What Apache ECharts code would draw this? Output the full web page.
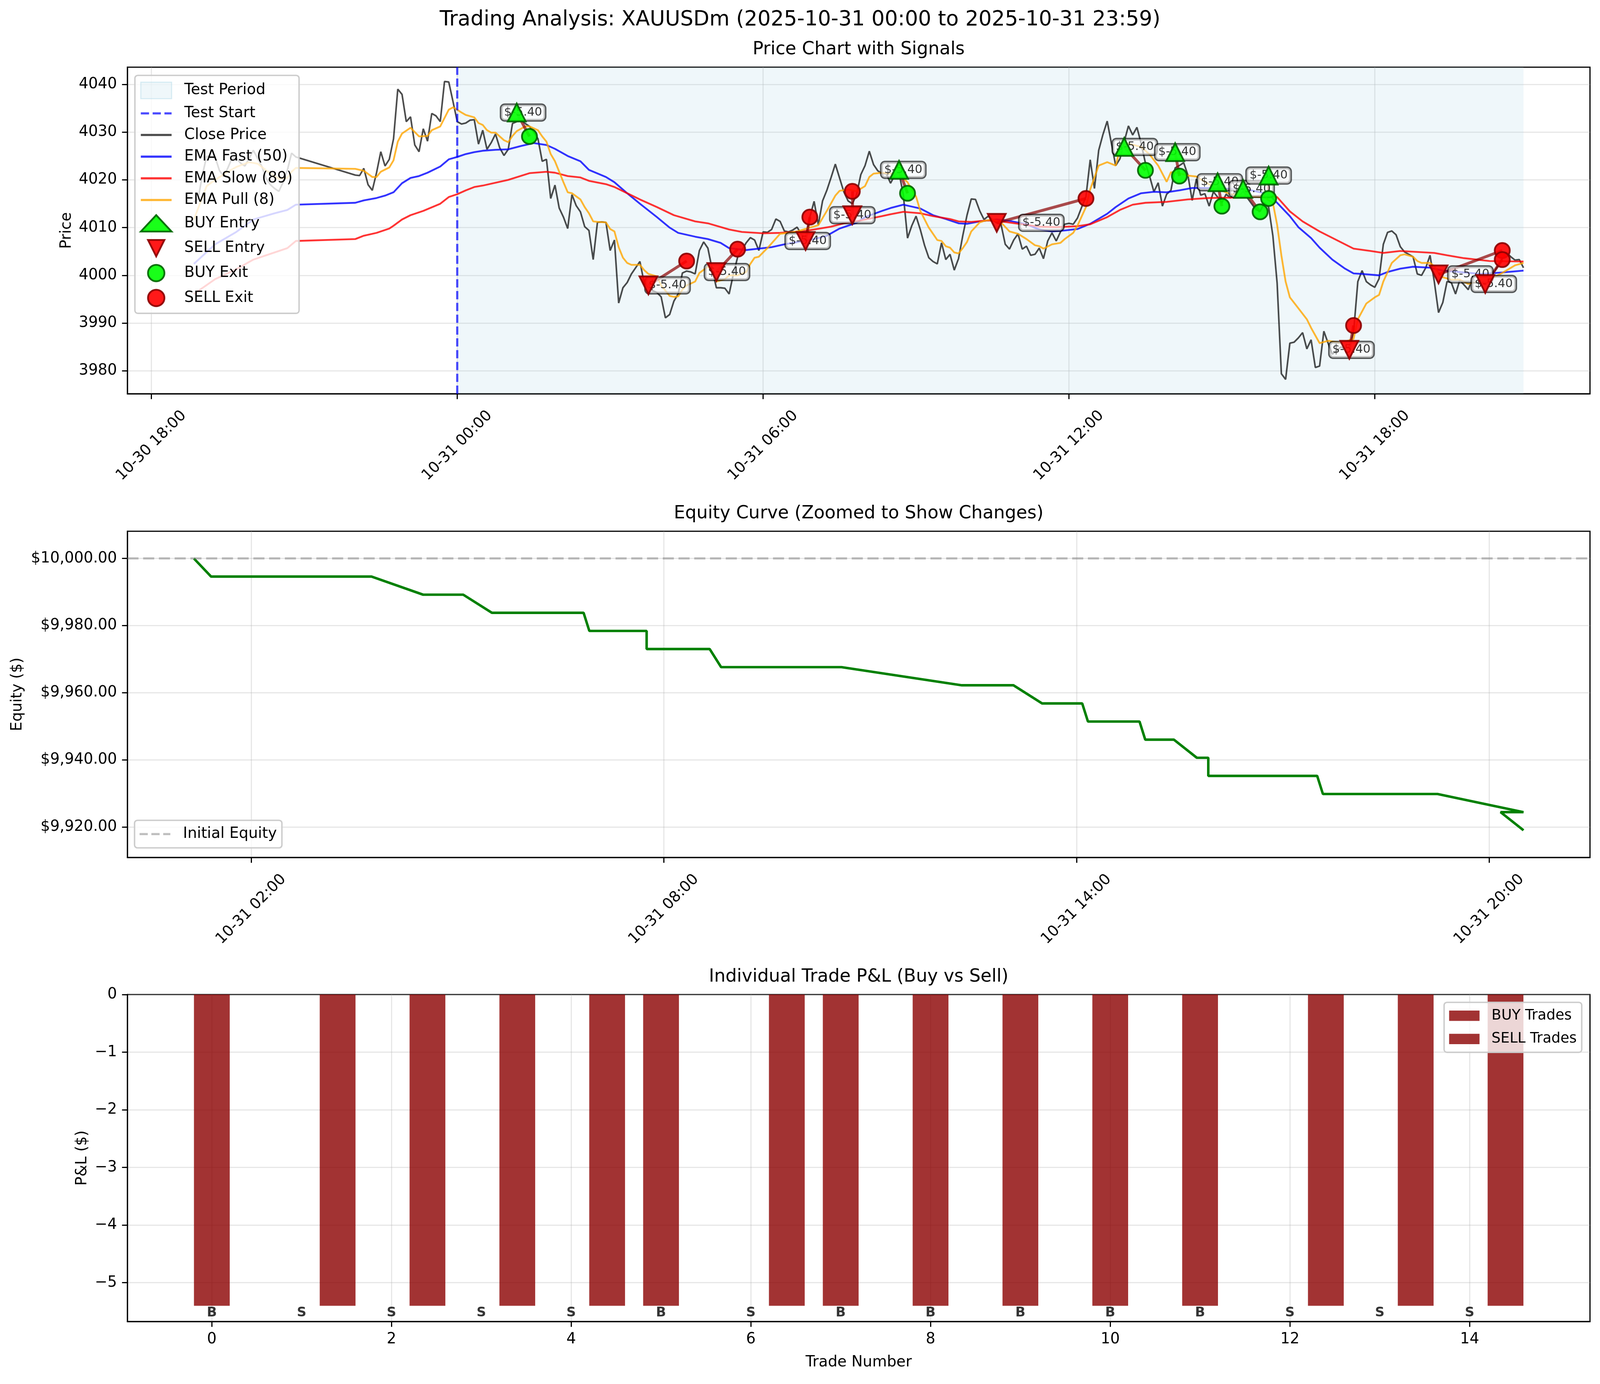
<!DOCTYPE html>
<html><head><meta charset="utf-8">
<script src="https://cdn.jsdelivr.net/npm/echarts@6/dist/echarts.min.js"></script>
<style>html,body{margin:0;padding:0;background:#fff;overflow:hidden}#c{width:100vw;height:100vh}</style>
</head><body><div id="c"></div><script>
// ---- DATA (time = minutes from 2025-10-31 00:00) ----
const closePrice = [[-310,4015.4],[-305,4016.0],[-300,4021.0],[-295,4024.9],[-290,4025.0],[-285,4024.8],[-280,4022.0],[-275,4020.7],[-270,4022.5],[-265,4024.6],[-260,4024.5],[-255,4023.5],[-250,4022.9],[-245,4024.5],[-240,4026.2],[-235,4024.5],[-230,4022.8],[-225,4020.3],[-220,4019.0],[-215,4018.2],[-210,4017.6],[-205,4019.5],[-200,4022.0],[-195,4025.6],[-190,4024.8],
[-120,4021.0],[-115,4020.9],[-110,4022.4],[-105,4019.0],[-100,4017.8],[-95,4021.5],[-90,4025.9],[-85,4022.9],[-80,4024.3],[-75,4028.6],[-70,4039.0],[-65,4037.9],[-60,4032.2],[-55,4033.2],[-50,4027.3],[-45,4025.9],[-40,4030.7],[-35,4028.1],[-30,4033.9],[-25,4033.4],[-20,4032.2],[-15,4040.6],[-10,4040.5],[-5,4036.4],[0,4032.2],[5,4031.7],[10,4031.9],[15,4032.5],[20,4032.6],[25,4027.5],[30,4030.4],[35,4026.4],[40,4027.8],[45,4029.6],[50,4026.7],[55,4025.1],[60,4026.4],[65,4031.8],[70,4032.2],[75,4032.5],[80,4031.8],[85,4031.2],[90,4030.0],[95,4028.6],[100,4023.9],[105,4024.3],[110,4016.1],[115,4018.9],[120,4014.1],[125,4012.2],[130,4009.8],[135,4016.9],[140,4014.6],[145,4013.3],[150,4010.2],[155,4009.4],[160,4003.3],[165,4011.1],[170,4011.2],[175,4011.1],[180,4005.2],[185,4007.4],[190,3994.2],[195,3997.4],[200,3998.5],[205,4000.3],[210,4001.6],[215,4002.9],[220,3998.4],[225,3997.5],[230,3996.8],[235,3996.4],[240,3995.5],[245,3991.1],[250,3991.8],[255,3994.6],[260,3996.1],[265,4000.5],[270,4000.9],[275,4000.7],[280,4000.3],[285,4005.2],[290,4007.0],[295,4005.7],[300,4001.3],[305,3997.4],[310,3997.4],[315,3997.3],[320,3996.1],[325,4000.3],[330,4003.8],[335,4005.2],[340,4006.8],[345,4007.9],[350,4007.4],[355,4005.2],[360,4009.1],[365,4009.0],[370,4009.6],[375,4011.8],[380,4011.3],[385,4009.3],[390,4009.1],[395,4009.5],[400,4010.1],[405,4008.6],[410,4007.6],[415,4012.2],[420,4015.5],[425,4010.6],[430,4015.6],[435,4017.8],[440,4020.5],[445,4023.3],[450,4020.4],[455,4017.5],[460,4015.6],[465,4015.0],[470,4016.9],[475,4021.1],[480,4023.0],[485,4026.0],[490,4023.2],[495,4021.9],[500,4021.3],[505,4021.3],[510,4019.3],[515,4021.0],[520,4021.5],[525,4016.9],[530,4007.8],[535,4010.4],[540,4012.4],[545,4009.6],[550,4006.3],[555,4003.7],[560,4002.9],[565,4002.4],[570,4006.8],[575,4003.3],[580,4004.4],[585,4001.1],[590,4003.5],[595,4008.3],[600,4012.6],[605,4016.0],[610,4015.9],[615,4013.5],[620,4011.7],[625,4012.4],[630,4011.6],[635,4011.0],[640,4010.7],[645,4006.5],[650,4005.5],[655,4007.4],[660,4008.7],[665,4005.5],[670,4006.1],[675,4004.2],[680,4004.4],[685,4005.7],[690,4003.5],[695,4007.2],[700,4008.9],[705,4007.2],[710,4009.1],[715,4010.7],[720,4010.9],[725,4010.7],[730,4012.0],[735,4014.3],[740,4016.5],[745,4024.2],[750,4018.2],[755,4026.2],[760,4029.5],[765,4032.3],[770,4027.6],[775,4023.0],[780,4024.4],[785,4028.0],[790,4031.3],[795,4029.4],[800,4031.0],[805,4027.6],[810,4023.5],[815,4020.7],[820,4017.5],[825,4019.4],[830,4014.5],[835,4017.0],[840,4017.8],[845,4022.5],[850,4023.0],[855,4023.6],[860,4021.0],[865,4015.7],[870,4020.2],[875,4016.8],[880,4017.1],[885,4014.5],[890,4017.5],[895,4016.4],[900,4015.2],[905,4017.0],[910,4016.2],[915,4017.4],[920,4016.5],[925,4017.6],[930,4016.2],[935,4015.0],[940,4013.8],[945,4013.4],[950,4015.2],[955,4014.3],[960,4008.3],[965,3998.4],[970,3979.4],[975,3978.2],[980,3985.8],[985,3986.0],[990,3986.9],[995,3988.0],[1000,3984.6],[1005,3986.5],[1010,3980.7],[1015,3981.0],[1020,3988.3],[1025,3985.8],[1030,3983.5],[1035,3984.2],[1040,3985.0],[1045,3984.6],[1050,3985.0],[1055,3988.1],[1060,3998.7],[1065,4001.0],[1070,3998.7],[1075,3998.0],[1080,3997.5],[1085,3999.3],[1090,4006.5],[1095,4009.0],[1100,4009.3],[1105,4008.5],[1110,4006.0],[1115,4004.9],[1120,4004.4],[1125,4003.9],[1130,4000.3],[1135,4000.0],[1140,4001.6],[1145,4004.2],[1150,3998.7],[1155,3992.2],[1160,3994.3],[1165,3998.7],[1170,3998.5],[1175,3996.1],[1180,3999.0],[1185,3998.0],[1190,3997.0],[1195,3999.4],[1200,3998.4],[1205,3999.0],[1210,3998.0],[1215,3999.5],[1220,4000.6],[1225,4002.0],[1230,4003.5],[1235,4004.8],[1240,4003.9],[1245,4003.2],[1250,4003.3],[1255,4001.6]];

const emaFast = [[-310,4002.4],[-285,4006.5],[-260,4009.1],[-240,4011.7],[-215,4013.0],[-200,4013.7],[-190,4014.8],[-120,4015.2],[-110,4015.7],[-95,4016.2],[-85,4016.7],[-75,4017.4],[-65,4019.3],[-55,4020.4],[-45,4020.8],[-35,4021.5],[-20,4022.8],[-10,4024.3],[0,4024.8],[10,4025.4],[20,4025.8],[30,4026.1],[45,4026.3],[60,4026.4],[75,4027.1],[90,4027.7],[105,4027.3],[115,4026.5],[130,4025.0],[145,4023.9],[155,4022.1],[175,4020.6],[185,4019.5],[200,4017.2],[215,4015.0],[235,4012.2],[250,4010.0],[260,4008.9],[280,4008.1],[295,4007.6],[310,4006.8],[320,4005.7],[340,4005.3],[360,4005.7],[370,4005.9],[385,4006.5],[405,4007.1],[420,4007.6],[435,4008.3],[450,4009.8],[460,4010.4],[470,4011.0],[480,4012.2],[500,4013.5],[510,4014.1],[525,4014.8],[535,4014.4],[545,4014.0],[560,4012.6],[575,4011.8],[590,4010.9],[600,4010.8],[615,4011.3],[635,4011.7],[650,4011.4],[670,4010.7],[685,4009.6],[700,4009.2],[715,4009.4],[730,4009.7],[745,4010.8],[765,4012.9],[775,4014.3],[790,4016.1],[805,4017.2],[820,4017.5],[835,4017.4],[850,4017.8],[865,4018.3],[885,4018.3],[930,4018.0],[955,4017.0],[965,4015.2],[980,4012.4],[990,4010.1],[1005,4007.8],[1015,4005.8],[1030,4003.3],[1045,4001.4],[1055,4000.4],[1065,4000.3],[1085,4000.0],[1095,4000.7],[1110,4001.4],[1125,4001.8],[1145,4001.6],[1160,4001.0],[1185,4000.6],[1205,4000.3],[1230,4000.6],[1255,4001.0]];

const emaSlow = [[-310,3996.1],[-285,3999.2],[-260,4001.3],[-240,4003.3],[-215,4004.8],[-200,4005.7],[-190,4007.2],[-120,4007.6],[-110,4008.3],[-95,4008.9],[-80,4009.8],[-75,4010.4],[-65,4011.7],[-55,4012.6],[-40,4013.5],[-20,4015.0],[-10,4016.4],[0,4017.0],[10,4017.8],[20,4018.5],[30,4018.8],[60,4020.0],[85,4021.4],[105,4021.7],[115,4021.5],[130,4020.8],[145,4020.5],[155,4019.8],[175,4019.1],[185,4018.5],[200,4017.2],[215,4015.9],[235,4014.3],[255,4012.6],[280,4011.3],[295,4010.9],[320,4009.6],[335,4009.1],[360,4008.8],[380,4008.9],[405,4009.2],[420,4009.6],[440,4010.2],[455,4010.9],[475,4011.5],[500,4012.4],[510,4012.8],[525,4013.3],[545,4013.0],[560,4012.4],[580,4011.8],[590,4011.3],[605,4011.2],[625,4011.5],[640,4011.3],[665,4010.7],[685,4010.2],[705,4010.1],[730,4010.3],[745,4010.7],[765,4012.2],[780,4013.7],[795,4014.8],[810,4015.2],[835,4015.4],[860,4015.9],[885,4016.2],[915,4016.3],[950,4016.7],[965,4016.4],[980,4013.4],[995,4011.3],[1015,4009.2],[1035,4007.4],[1055,4005.6],[1075,4005.1],[1090,4004.7],[1110,4005.1],[1130,4004.9],[1150,4004.7],[1165,4004.2],[1185,4003.6],[1215,4003.0],[1255,4002.9]];

const emaPull = [[-310,4011.7],[-295,4018.7],[-285,4020.0],[-270,4021.7],[-260,4022.7],[-245,4023.7],[-235,4023.4],[-225,4022.0],[-215,4020.8],[-210,4020.2],[-200,4020.4],[-195,4021.7],[-190,4022.5],[-120,4022.3],[-110,4021.9],[-100,4020.6],[-95,4020.6],[-90,4021.7],[-80,4022.6],[-75,4024.1],[-70,4028.0],[-65,4029.7],[-55,4030.9],[-45,4029.1],[-35,4029.2],[-30,4030.4],[-20,4031.2],[-10,4034.7],[-5,4035.2],[0,4034.7],[5,4034.1],[10,4033.6],[20,4033.1],[25,4031.9],[30,4031.5],[35,4030.4],[40,4029.9],[45,4029.9],[50,4029.1],[55,4028.3],[60,4027.9],[65,4029.2],[70,4030.2],[80,4031.2],[85,4031.2],[95,4030.4],[100,4029.1],[105,4028.0],[110,4025.4],[115,4023.9],[120,4021.7],[125,4019.5],[130,4017.4],[135,4017.2],[145,4015.9],[150,4014.3],[155,4013.0],[160,4011.3],[165,4011.2],[175,4011.1],[180,4009.7],[185,4009.2],[190,4005.9],[195,4003.7],[200,4002.6],[205,4002.2],[215,4002.2],[220,4001.1],[225,4000.3],[235,3999.8],[240,3997.9],[250,3995.7],[255,3995.5],[260,3995.6],[265,3997.0],[270,3997.9],[280,3998.7],[285,4000.5],[295,4001.8],[300,4001.1],[305,3998.7],[315,3999.2],[320,4000.0],[330,4000.0],[340,4000.7],[345,4002.4],[350,4003.7],[355,4003.9],[365,4005.7],[380,4008.7],[390,4008.9],[400,4009.2],[415,4010.0],[425,4010.5],[435,4013.5],[445,4016.7],[450,4017.7],[460,4018.0],[470,4017.6],[480,4018.7],[485,4020.6],[490,4021.3],[500,4021.5],[510,4021.3],[520,4021.1],[530,4019.5],[540,4016.5],[545,4013.5],[555,4010.0],[565,4007.4],[570,4007.2],[575,4006.1],[580,4005.8],[585,4004.8],[590,4004.6],[595,4005.7],[600,4007.0],[605,4009.2],[615,4011.1],[620,4011.4],[630,4011.7],[640,4011.1],[650,4009.2],[660,4008.7],[670,4007.6],[680,4006.3],[685,4006.1],[690,4005.6],[700,4006.5],[710,4006.8],[715,4007.6],[725,4008.9],[730,4010.4],[740,4014.3],[745,4018.0],[755,4023.0],[765,4023.7],[775,4023.0],[780,4026.4],[790,4027.6],[805,4026.9],[815,4025.3],[825,4023.0],[835,4019.6],[840,4021.6],[850,4021.4],[860,4020.9],[870,4020.7],[890,4018.5],[910,4017.0],[930,4016.6],[950,4016.3],[960,4015.2],[965,4010.6],[970,4004.2],[975,3998.7],[980,3995.4],[990,3993.1],[1000,3990.8],[1005,3989.0],[1015,3985.8],[1025,3986.3],[1035,3986.0],[1040,3985.8],[1055,3986.7],[1060,3990.8],[1070,3994.1],[1080,3995.4],[1085,3995.9],[1090,3998.7],[1100,4002.6],[1110,4004.2],[1115,4004.4],[1125,4003.9],[1130,4003.0],[1135,4002.6],[1145,4002.6],[1150,4001.9],[1155,4000.5],[1160,3999.6],[1170,3999.1],[1180,3999.1],[1190,3998.2],[1200,3998.7],[1215,3999.1],[1230,4000.5],[1245,4002.1],[1255,4002.6]];

const tradeSide  = ['BUY','SELL','SELL','SELL','SELL','BUY','SELL','BUY','BUY','BUY','BUY','BUY','SELL','SELL','SELL'];
const entryTime  = [70,225,305,410,465,520,635,785,845,895,925,955,1050,1155,1210];
const entryPrice = [4034.1,3997.9,4000.7,4007.2,4012.6,4022.1,4011.0,4026.9,4025.8,4019.5,4018.1,4020.9,3984.4,4000.2,3998.2];
const exitTime   = [85,270,330,415,465,530,740,810,850,900,945,955,1055,1230,1230];
const exitPrice  = [4029.1,4003.0,4005.5,4012.2,4017.6,4017.2,4016.1,4022.0,4020.8,4014.5,4013.3,4016.1,3989.5,4005.2,4003.3];
const tradePnl   = [-5.4,-5.4,-5.4,-5.4,-5.4,-5.4,-5.4,-5.4,-5.4,-5.4,-5.4,-5.4,-5.4,-5.4,-5.4];
const initialEquity = 10000;
const equityAfter = [9994.6,9989.2,9983.8,9978.4,9973.0,9967.6,9962.2,9956.8,9951.4,9946.0,9940.6,9935.2,9929.8,9924.4,9919.0];
const testStart = 0;

const priceXTicks = [-360,0,360,720,1080];
const priceYTicks = [3980,3990,4000,4010,4020,4030,4040];
const equityXTicks = [120,480,840,1200];
const equityYTicks = [9920,9940,9960,9980,10000];
const pnlXTicks = [0,2,4,6,8,10,12,14];
const pnlYTicks = [-5,-4,-3,-2,-1,0];

// ---- derived tables ----
const idx = tradeSide.map((_, i) => i);
const buyIdx = idx.filter(i => tradeSide[i] === 'BUY');
const sellIdx = idx.filter(i => tradeSide[i] === 'SELL');
const testEnd = closePrice[closePrice.length - 1][0];
const equityCurve = [];
let eqPrev = initialEquity;
idx.forEach(i => { equityCurve.push([entryTime[i], eqPrev]); equityCurve.push([exitTime[i], equityAfter[i]]); eqPrev = equityAfter[i]; });

// ---- layout scaling (design size 4471 x 3543) ----
const dom = document.getElementById('c');
const W = dom.clientWidth || window.innerWidth, H = dom.clientHeight || window.innerHeight;
const SX = W / 4471, SY = H / 3543, SF = Math.min(SX, SY);
const px = v => v * SX, py = v => v * SY, pf = v => v * SF;

// ---- helpers ----
const FONT = 'DejaVu Sans';
const pad2 = n => String(n).padStart(2, '0');
function fmtTime(t) {
  const day = t < 0 ? 30 : 31;
  const m = ((t % 1440) + 1440) % 1440;
  return '10-' + day + ' ' + pad2(Math.floor(m / 60)) + ':' + pad2(m % 60);
}
const fmtPlain = v => String(v);
const fmtMoney = v => '$' + v.toLocaleString('en-US', {minimumFractionDigits: 2, maximumFractionDigits: 2});
const fmtMinus = v => v < 0 ? '\u2212' + Math.abs(v) : String(v);
const SPINE = pf(3.3);
const axisLine = {show: true, onZero: false, lineStyle: {color: '#000', width: SPINE}};
const tick = vals => ({show: true, length: pf(15), inside: false, customValues: vals, lineStyle: {color: '#000', width: SPINE}});
const split = {show: true, lineStyle: {color: 'rgba(176,176,176,0.3)', width: pf(3.3)}};
const lbl = (vals, extra) => Object.assign({customValues: vals, fontSize: pf(42), fontFamily: FONT, color: '#000', margin: pf(29)}, extra || {});
const nameStyle = {fontSize: pf(42), fontFamily: FONT, color: '#000'};
const gridBox = (top, h) => ({left: px(356), top: py(top), width: px(4087), height: py(h), show: true, borderColor: '#000', borderWidth: SPINE, backgroundColor: 'transparent'});
const titleStyle = size => ({fontSize: pf(size), fontWeight: 'normal', fontFamily: FONT, color: '#000', lineHeight: pf(size)});
const legendBase = {orient: 'vertical', backgroundColor: 'rgba(255,255,255,0.8)', borderColor: '#cccccc', borderWidth: pf(4), borderRadius: pf(8),
  itemGap: py(17), itemWidth: pf(86), itemHeight: pf(46), textStyle: {fontSize: pf(42), fontFamily: FONT, color: '#000', lineHeight: pf(42), padding: [0, 0, 0, pf(30)]}, selectedMode: false, z: 20};
const markerZ = 6;
const greenFill = '#00ff00', greenEdge = '#006400', redFill = '#ff0000', redEdge = '#8b0000';
const downTri = 'path://M0,0L100,0L50,100Z';
const lineIcon = 'path://M0,0H86V6H0Z';
const dashIcon = 'path://M0,0H23V6H0Z M33,0H56V6H33Z M66,0H86V6H66Z';
const markerBorder = pf(5);

const option = {
  animation: false,
  backgroundColor: '#ffffff',
  title: [
    {text: 'Trading Analysis: XAUUSDm (2025-10-31 00:00 to 2025-10-31 23:59)', left: 'center', top: py(25), padding: 0, textStyle: titleStyle(58)},
    {text: 'Price Chart with Signals', left: px(2399.5), textAlign: 'center', top: py(104), padding: 0, textStyle: titleStyle(50)},
    {text: 'Equity Curve (Zoomed to Show Changes)', left: px(2399.5), textAlign: 'center', top: py(1292), padding: 0, textStyle: titleStyle(50)},
    {text: 'Individual Trade P&L (Buy vs Sell)', left: px(2399.5), textAlign: 'center', top: py(2478), padding: 0, textStyle: titleStyle(50)}
  ],
  grid: [gridBox(172, 836), gridBox(1360, 835), gridBox(2546, 837)],
  xAxis: [
    {type: 'value', gridIndex: 0, min: -388.25, max: 1333.25, axisLine: axisLine, axisTick: tick(priceXTicks), splitLine: split,
     axisLabel: lbl(priceXTicks, {formatter: fmtTime, rotate: 45, align: 'center', verticalAlign: 'middle', margin: py(133)})},
    {type: 'value', gridIndex: 1, min: 12, max: 1288, axisLine: axisLine, axisTick: tick(equityXTicks), splitLine: split,
     axisLabel: lbl(equityXTicks, {formatter: fmtTime, rotate: 45, align: 'center', verticalAlign: 'middle', margin: py(133)})},
    {type: 'value', gridIndex: 2, min: -0.94, max: 15.34, axisLine: axisLine, axisTick: tick(pnlXTicks), splitLine: split,
     axisLabel: lbl(pnlXTicks, {formatter: fmtPlain}), name: 'Trade Number', nameLocation: 'middle', nameGap: py(86), nameTextStyle: nameStyle}
  ],
  yAxis: [
    {type: 'value', gridIndex: 0, min: 3975.2, max: 4043.6, axisLine: axisLine, axisTick: tick(priceYTicks), splitLine: split,
     axisLabel: lbl(priceYTicks, {formatter: fmtPlain}), name: 'Price', nameLocation: 'middle', nameGap: px(149), nameTextStyle: nameStyle},
    {type: 'value', gridIndex: 1, min: 9910.9, max: 10008.1, axisLine: axisLine, axisTick: tick(equityYTicks), splitLine: split,
     axisLabel: lbl(equityYTicks, {formatter: fmtMoney}), name: 'Equity ($)', nameLocation: 'middle', nameGap: px(286), nameTextStyle: nameStyle},
    {type: 'value', gridIndex: 2, min: -5.673, max: 0, axisLine: axisLine, axisTick: tick(pnlYTicks), splitLine: split,
     axisLabel: lbl(pnlYTicks, {formatter: fmtMinus}), name: 'P&L ($)', nameLocation: 'middle', nameGap: px(105), nameTextStyle: nameStyle}
  ],
  legend: [
    Object.assign({}, legendBase, {left: px(377), top: py(193), padding: [py(16), px(18), py(16), px(14)],
      data: [
        {name: 'Test Period', icon: 'rect', itemStyle: {color: 'rgba(173,216,230,0.2)', borderColor: 'rgba(173,216,230,0.45)', borderWidth: pf(3)}},
        {name: 'Test Start', icon: dashIcon, itemStyle: {color: 'rgba(0,0,255,0.7)', borderWidth: 0}},
        {name: 'Close Price', icon: lineIcon, itemStyle: {color: 'rgba(0,0,0,0.7)', borderWidth: 0}},
        {name: 'EMA Fast (50)', icon: lineIcon, itemStyle: {color: 'rgba(0,0,255,0.8)', borderWidth: 0}},
        {name: 'EMA Slow (89)', icon: lineIcon, itemStyle: {color: 'rgba(255,0,0,0.8)', borderWidth: 0}},
        {name: 'EMA Pull (8)', icon: lineIcon, itemStyle: {color: 'rgba(255,165,0,0.8)', borderWidth: 0}},
        {name: 'BUY Entry', icon: 'triangle', itemStyle: {color: greenFill, borderColor: greenEdge, borderWidth: markerBorder}},
        {name: 'SELL Entry', icon: downTri, itemStyle: {color: redFill, borderColor: redEdge, borderWidth: markerBorder}},
        {name: 'BUY Exit', icon: 'circle', itemStyle: {color: greenFill, borderColor: greenEdge, borderWidth: markerBorder}},
        {name: 'SELL Exit', icon: 'circle', itemStyle: {color: redFill, borderColor: redEdge, borderWidth: markerBorder}}
      ]}),
    Object.assign({}, legendBase, {left: px(376), top: py(2100), padding: [py(16), px(14), py(16), px(14)], itemHeight: pf(42),
      data: [{name: 'Initial Equity', icon: dashIcon, itemStyle: {color: 'rgba(128,128,128,0.5)', borderWidth: 0}}]}),
    Object.assign({}, legendBase, {right: px(51), top: py(2566), padding: [py(15), px(14), py(15), px(14)], itemHeight: pf(29), itemWidth: pf(85), itemGap: py(21),
      textStyle: {fontSize: pf(40), fontFamily: FONT, color: '#000', lineHeight: pf(42), padding: [0, 0, 0, pf(28)]},
      data: [{name: 'BUY Trades', icon: 'rect'}, {name: 'SELL Trades', icon: 'rect'}]})
  ],
  series: [
    {name: 'Test Period', type: 'line', xAxisIndex: 0, yAxisIndex: 0, data: [], z: 1, itemStyle: {color: 'rgba(173,216,230,0.2)'},
     markArea: {silent: true, itemStyle: {color: 'rgba(173,216,230,0.2)'}, data: [[{xAxis: testStart}, {xAxis: testEnd}]]}},
    {name: 'Test Start', type: 'line', xAxisIndex: 0, yAxisIndex: 0, data: [], symbol: 'none', z: 3,
     itemStyle: {color: 'rgba(0,0,255,0.7)'}, lineStyle: {color: 'rgba(0,0,255,0.7)', width: pf(6), type: [pf(23), pf(10)]},
     markLine: {silent: true, symbol: 'none', label: {show: false}, lineStyle: {color: 'rgba(0,0,255,0.7)', width: pf(6), type: [pf(23), pf(10)]}, data: [{xAxis: testStart}]}},
    {name: 'Close Price', type: 'line', xAxisIndex: 0, yAxisIndex: 0, data: closePrice, symbol: 'none', z: 2,
     itemStyle: {color: 'rgba(0,0,0,0.7)'}, lineStyle: {color: 'rgba(0,0,0,0.7)', width: pf(4.5)}},
    {name: 'EMA Fast (50)', type: 'line', xAxisIndex: 0, yAxisIndex: 0, data: emaFast, symbol: 'none', z: 2,
     itemStyle: {color: 'rgba(0,0,255,0.8)'}, lineStyle: {color: 'rgba(0,0,255,0.8)', width: pf(5)}},
    {name: 'EMA Slow (89)', type: 'line', xAxisIndex: 0, yAxisIndex: 0, data: emaSlow, symbol: 'none', z: 2,
     itemStyle: {color: 'rgba(255,0,0,0.8)'}, lineStyle: {color: 'rgba(255,0,0,0.8)', width: pf(5)}},
    {name: 'EMA Pull (8)', type: 'line', xAxisIndex: 0, yAxisIndex: 0, data: emaPull, symbol: 'none', z: 2,
     itemStyle: {color: 'rgba(255,165,0,0.8)'}, lineStyle: {color: 'rgba(255,165,0,0.8)', width: pf(5)}},
    {name: 'Trade Lines', type: 'lines', coordinateSystem: 'cartesian2d', xAxisIndex: 0, yAxisIndex: 0, z: 4, silent: true,
     lineStyle: {color: 'rgba(139,0,0,0.7)', width: pf(8), opacity: 1, curveness: 0},
     data: idx.map(i => ({coords: [[entryTime[i], entryPrice[i]], [exitTime[i], exitPrice[i]]]}))},
    {name: 'Trade P&L Labels', type: 'scatter', xAxisIndex: 0, yAxisIndex: 0, z: 5, silent: true, symbolSize: 0.1,
     itemStyle: {color: 'transparent'},
     label: {show: true, position: 'inside', formatter: p => '$' + p.value[2].toFixed(2), fontSize: pf(33), fontFamily: FONT, color: '#000',
       lineHeight: pf(33), backgroundColor: 'rgba(255,255,255,0.8)', borderColor: 'rgba(0,0,0,0.8)', borderWidth: pf(4), borderRadius: pf(10), padding: [pf(5), pf(8)]},
     data: idx.map(i => [(entryTime[i] + exitTime[i]) / 2, entryPrice[i], tradePnl[i]])},
    {name: 'BUY Entry', type: 'scatter', xAxisIndex: 0, yAxisIndex: 0, z: markerZ, symbol: 'triangle', symbolSize: pf(50),
     itemStyle: {color: greenFill, borderColor: greenEdge, borderWidth: markerBorder, opacity: 0.9, borderJoin: 'miter'},
     data: buyIdx.map(i => [entryTime[i], entryPrice[i]])},
    {name: 'SELL Entry', type: 'scatter', xAxisIndex: 0, yAxisIndex: 0, z: markerZ, symbol: downTri, symbolSize: pf(50),
     itemStyle: {color: redFill, borderColor: redEdge, borderWidth: markerBorder, opacity: 0.9, borderJoin: 'miter'},
     data: sellIdx.map(i => [entryTime[i], entryPrice[i]])},
    {name: 'BUY Exit', type: 'scatter', xAxisIndex: 0, yAxisIndex: 0, z: markerZ, symbol: 'circle', symbolSize: pf(42),
     itemStyle: {color: greenFill, borderColor: greenEdge, borderWidth: markerBorder, opacity: 0.9},
     data: buyIdx.map(i => [exitTime[i], exitPrice[i]])},
    {name: 'SELL Exit', type: 'scatter', xAxisIndex: 0, yAxisIndex: 0, z: markerZ, symbol: 'circle', symbolSize: pf(42),
     itemStyle: {color: redFill, borderColor: redEdge, borderWidth: markerBorder, opacity: 0.9},
     data: sellIdx.map(i => [exitTime[i], exitPrice[i]])},
    // equity
    {name: 'Equity', type: 'line', xAxisIndex: 1, yAxisIndex: 1, data: equityCurve, symbol: 'none', z: 3,
     itemStyle: {color: '#008000'}, lineStyle: {color: '#008000', width: pf(7)}},
    {name: 'Initial Equity', type: 'line', xAxisIndex: 1, yAxisIndex: 1, data: [], symbol: 'none', z: 2,
     itemStyle: {color: 'rgba(128,128,128,0.5)'}, lineStyle: {color: 'rgba(128,128,128,0.5)', width: pf(6), type: [pf(31), pf(13)]},
     markLine: {silent: true, symbol: 'none', label: {show: false}, lineStyle: {color: 'rgba(128,128,128,0.5)', width: pf(6), type: [pf(31), pf(13)]}, data: [{yAxis: initialEquity}]}},
    // pnl bars
    {name: 'BUY Trades', type: 'bar', xAxisIndex: 2, yAxisIndex: 2, barWidth: px(100), barGap: '-100%', z: 2,
     itemStyle: {color: 'rgba(139,0,0,0.8)'}, data: buyIdx.map(i => [i, tradePnl[i]])},
    {name: 'SELL Trades', type: 'bar', xAxisIndex: 2, yAxisIndex: 2, barWidth: px(100), barGap: '-100%', z: 2,
     itemStyle: {color: 'rgba(139,0,0,0.8)'}, data: sellIdx.map(i => [i + 0.4, tradePnl[i]])},
    {name: 'Trade Side', type: 'scatter', xAxisIndex: 2, yAxisIndex: 2, z: 4, silent: true, symbolSize: 0.1, itemStyle: {color: 'transparent'},
     label: {show: true, position: 'bottom', distance: pf(2), formatter: p => p.value[2], fontSize: pf(37), fontWeight: 'bold', fontFamily: FONT, color: '#000', lineHeight: pf(37)},
     data: idx.map(i => [i, tradePnl[i], tradeSide[i][0]])}
  ]
};
const chart = echarts.init(dom, null, {renderer: 'canvas'});
chart.setOption(option);
</script></body></html>
